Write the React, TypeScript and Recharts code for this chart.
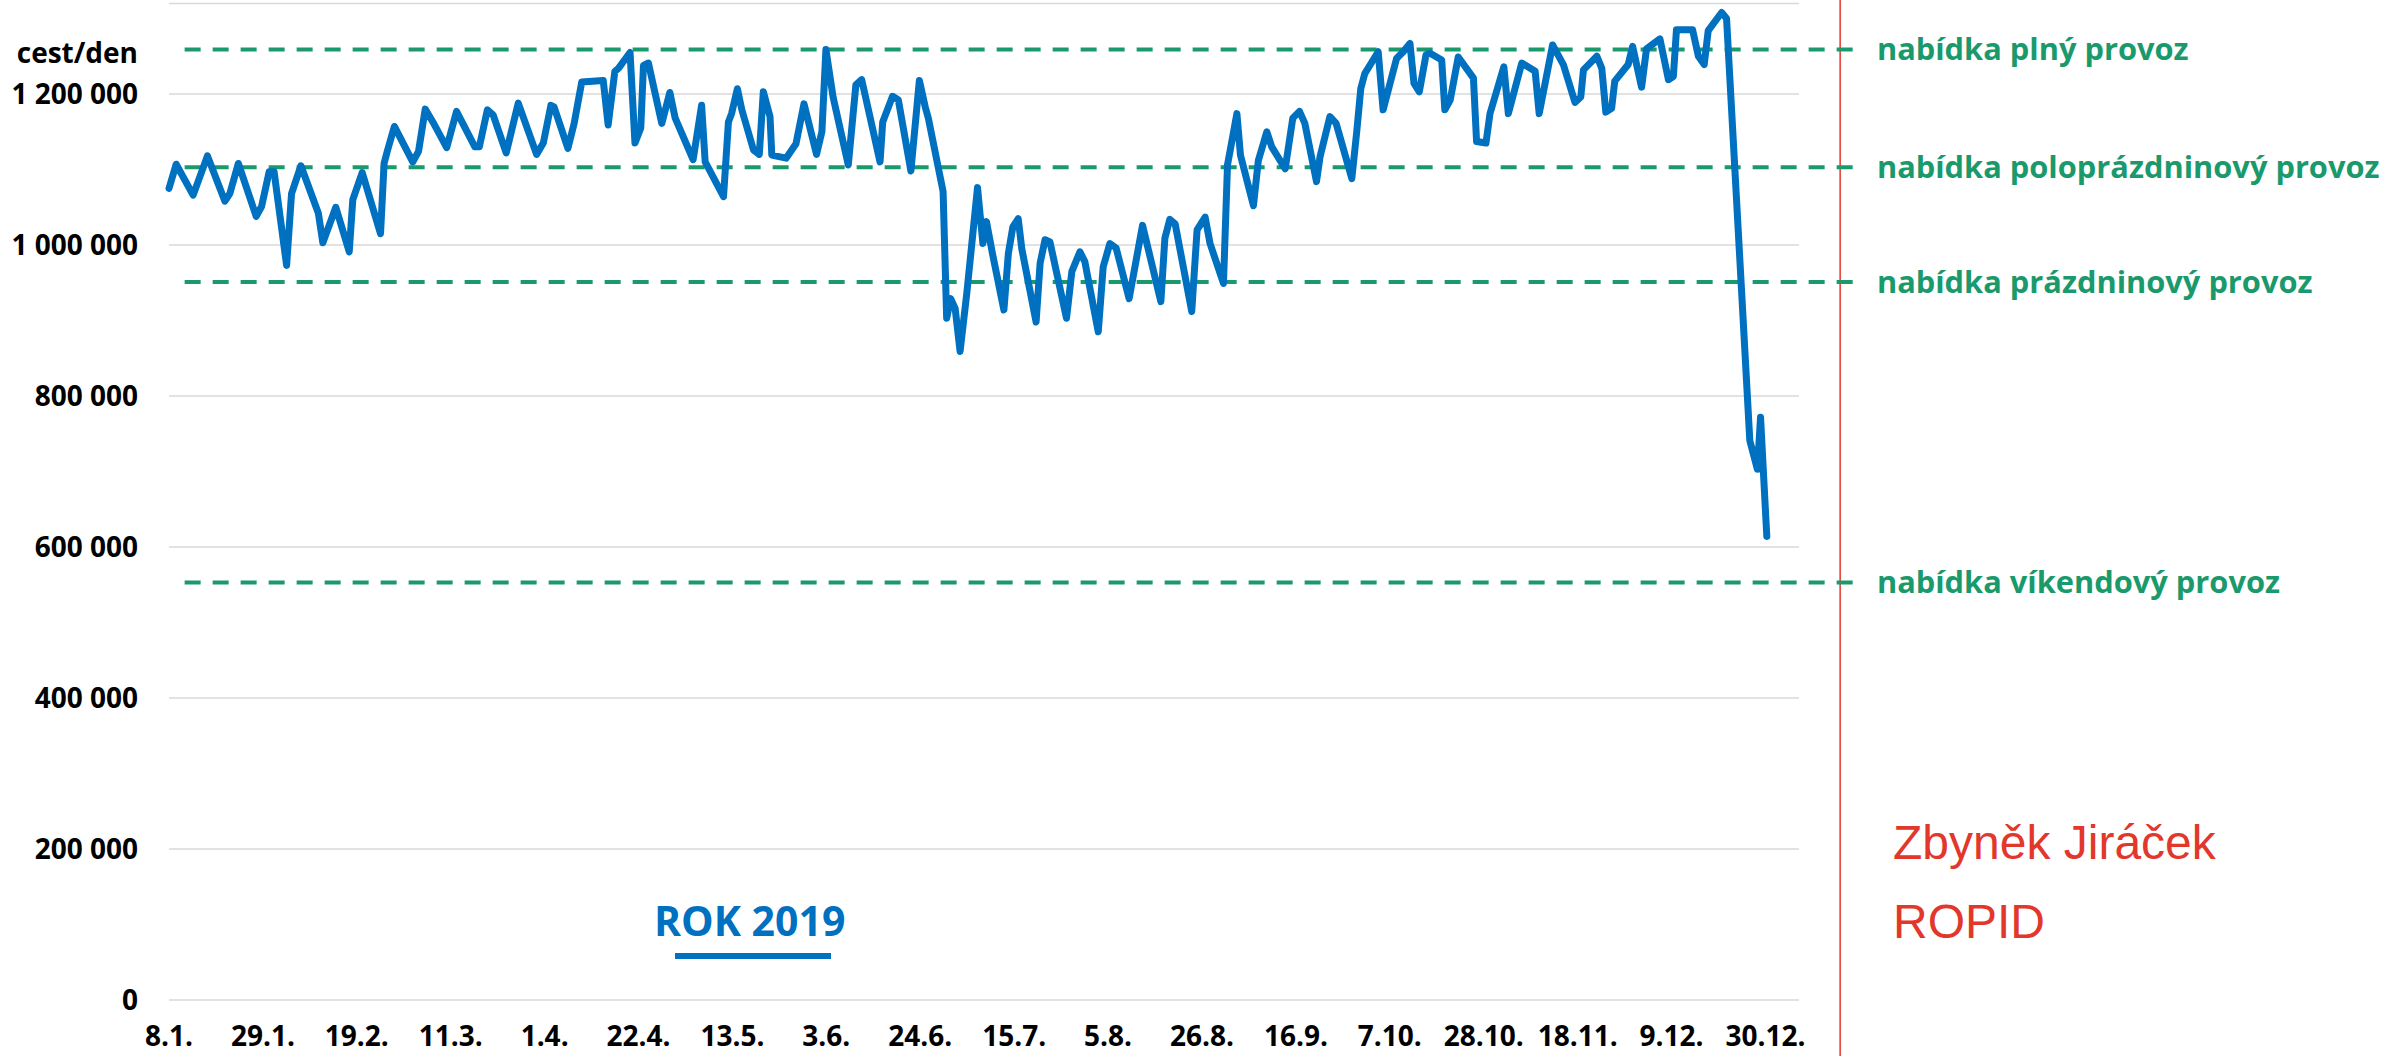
import { LineChart, Line, XAxis, YAxis, CartesianGrid, ReferenceLine } from 'recharts'

const FONT = '"Open Sans", sans-serif'
const BLUE = '#0070c0'
const GREEN = '#1a9a6c'
const RED = '#e2372b'

const X_TICK_LABELS = ['8.1.', '29.1.', '19.2.', '11.3.', '1.4.', '22.4.', '13.5.', '3.6.', '24.6.', '15.7.', '5.8.', '26.8.', '16.9.', '7.10.', '28.10.', '18.11.', '9.12.', '30.12.']
const X_TICKS = X_TICK_LABELS.map((_, i) => i * 21)
const Y_TICKS = [0, 200000, 400000, 600000, 800000, 1000000, 1200000]

// days counted from 8.1.
const DAYS = [
  0, 1.6, 5.4, 8.6, 12.5, 13.6, 15.5, 19.5, 20.7, 22.4, 23.5, 26.3, 27.4, 29.5, 33.4, 34.4, 37.3, 40.3, 41.1, 43.2,
  47.3, 48.1, 48.8, 50.4, 54.5, 55.8, 57.3, 59.0, 62.1,
  64.3, 68.4, 69.4, 71.2, 72.5, 75.4, 78.1, 82.2, 83.7, 85.4, 86.1, 89.2, 90.6, 92.3, 97.1, 98.2, 99.7, 100.5, 103.1, 104.2,
  105.5, 106.1, 107.2, 110.2, 112.0, 113.2, 117.2, 119.1, 119.9, 124.0,
  125.1, 125.8, 127.1, 128.1, 130.7, 132.0, 132.9, 134.4, 134.8, 138.0, 140.2, 142.0, 144.8, 146.0, 146.9, 148.5, 151.9,
  153.6, 154.9, 156.4, 159.0, 159.6, 161.8, 163.1, 165.9, 167.8, 169.1, 169.8, 173.1, 173.9, 174.8, 175.8, 176.9, 178.4,
  180.8, 182.0, 182.8, 184.2, 186.7,
  187.7, 188.7, 189.9, 190.7, 193.9, 194.8, 195.9, 197.0, 200.7, 201.9, 203.7, 204.8, 207.8, 208.9, 210.4, 211.8, 214.7,
  217.7, 221.8, 222.7, 223.8, 225.0, 228.7, 229.9, 231.7, 232.8, 235.8, 236.7, 237.6, 238.8, 239.6, 242.5, 243.6, 245.5, 246.6,
  249.6, 251.3, 252.8, 254.0, 256.6, 257.4, 259.6, 261.0, 264.5, 265.6, 266.5, 267.4, 270.4, 271.5, 274.5, 276.0, 277.5,
  278.4, 279.6, 281.1, 282.0, 284.6, 285.3, 286.5, 288.3, 291.7, 292.4, 294.5, 295.4, 298.5, 299.5, 302.5, 305.5, 306.4, 309.4,
  311.8, 314.4, 315.7, 316.3, 319.3, 320.4, 321.3, 322.6, 323.3, 326.3, 327.3, 329.3, 330.4, 333.4, 335.3, 336.4, 337.1,
  340.7, 342.0, 343.3, 344.2, 347.2, 348.3, 353.5, 355.2, 355.9, 357.3,
]

// trips per day, thousands
const TRIPS_K = [
  1075, 1107, 1066, 1118, 1058, 1068, 1108, 1038, 1051, 1097, 1097, 973, 1068, 1105, 1042, 1003, 1050, 991, 1060, 1096,
  1015, 1108, 1124, 1157, 1110, 1124, 1180, 1163, 1129,
  1177, 1130, 1130, 1179, 1172, 1122, 1188, 1120, 1135, 1185, 1183, 1128, 1161, 1216, 1218, 1159, 1230, 1234, 1255, 1135,
  1155, 1238, 1241, 1161, 1202, 1168, 1113, 1185, 1110, 1064,
  1163, 1174, 1207, 1179, 1126, 1120, 1203, 1170, 1119, 1115, 1134, 1187, 1120, 1150, 1259, 1196, 1106,
  1212, 1219, 1179, 1110, 1163, 1197, 1192, 1098, 1218, 1183, 1168, 1071, 903, 929, 916, 859, 936,
  1076, 1002, 1031, 987, 914,
  989, 1024, 1035, 995, 898, 976, 1007, 1004, 903, 965, 991, 978, 885, 971, 1002, 996, 929,
  1026, 925, 1009, 1034, 1028, 912, 1020, 1037, 1002, 949, 1106, 1135, 1174, 1119, 1052, 1112, 1150, 1130,
  1101, 1168, 1177, 1161, 1084, 1117, 1170, 1161, 1088, 1150, 1207, 1227, 1256, 1179, 1247, 1256, 1267,
  1214, 1203, 1252, 1254, 1245, 1179, 1192, 1249, 1221, 1137, 1135, 1174, 1236, 1174, 1241, 1230, 1174, 1265,
  1239, 1189, 1196, 1232, 1250, 1234, 1176, 1181, 1217, 1239, 1263, 1209, 1260, 1273, 1219, 1223, 1285,
  1285, 1250, 1239, 1284, 1308, 1300, 741, 703, 772, 614,
]

const SERVICE_NAMES = ['nabídka plný provoz', 'nabídka poloprázdninový provoz', 'nabídka prázdninový provoz', 'nabídka víkendový provoz']
const SERVICE_VALUES = [1259000, 1103000, 951000, 553000]

const data = DAYS.map((day, i) => ({ day, trips: TRIPS_K[i] * 1000 }))

const fmt = (v: number) => String(v).replace(/\B(?=(\d{3})+(?!\d))/g, ' ')

const tickStyle = { fill: '#000', fontSize: 28, fontWeight: 700, fontFamily: FONT }

export default function App() {
  return (
    <div style={{ position: 'absolute', left: 0, top: 0, width: 2384, height: 1056, background: '#fff' }}>
      <LineChart width={2384} height={1056} data={data} margin={{ top: 3.4, right: 585, left: 0, bottom: 0 }}>
        <CartesianGrid vertical={false} stroke="#d9d9d9" strokeWidth={1.5} />
        <XAxis
          type="number"
          dataKey="day"
          domain={[0, 364.5]}
          ticks={X_TICKS}
          interval={0}
          tickFormatter={(v: number) => X_TICK_LABELS[Math.round(v / 21)]}
          axisLine={false}
          tickLine={false}
          tickSize={0}
          tickMargin={26}
          height={56}
          tick={tickStyle}
        />
        <YAxis
          type="number"
          domain={[0, 1320000]}
          ticks={Y_TICKS}
          interval={0}
          tickFormatter={fmt}
          axisLine={false}
          tickLine={false}
          tickSize={0}
          tickMargin={31}
          width={169}
          tick={tickStyle}
        />
        <ReferenceLine
          segment={[{ x: 373.7, y: 1330000 }, { x: 373.7, y: -80000 }]}
          ifOverflow="visible"
          stroke={RED}
          strokeWidth={1.5}
        />
        {SERVICE_VALUES.map((v, i) => (
          <ReferenceLine
            key={SERVICE_NAMES[i]}
            segment={[{ x: 3.5, y: v }, { x: 377, y: v }]}
            ifOverflow="visible"
            stroke={GREEN}
            strokeWidth={4}
            strokeDasharray="16 12"
            label={{
              value: SERVICE_NAMES[i],
              position: 'right',
              offset: 22,
              fill: GREEN,
              fontSize: 30.8,
              fontWeight: 700,
              fontFamily: FONT,
            }}
          />
        ))}
        <Line
          type="linear"
          dataKey="trips"
          stroke={BLUE}
          strokeWidth={7}
          strokeLinejoin="round"
          strokeLinecap="round"
          dot={false}
          isAnimationActive={false}
        />
      </LineChart>
      <svg width={2384} height={1056} style={{ position: 'absolute', left: 0, top: 0, pointerEvents: 'none' }}>
        <text x={138} y={63} textAnchor="end" fontFamily={FONT} fontWeight={700} fontSize={28} fill="#000">cest/den</text>
        <text x={654} y={936} fontFamily={FONT} fontWeight={700} fontSize={41} fill={BLUE}>ROK 2019</text>
        <rect x={675} y={953} width={156} height={6} fill={BLUE} />
        <text x={1893} y={859} fontFamily='"Liberation Sans", Arial, sans-serif' fontSize={48} fill={RED}>Zbyněk Jiráček</text>
        <text x={1893} y={938} fontFamily='"Liberation Sans", Arial, sans-serif' fontSize={48} fill={RED}>ROPID</text>
      </svg>
    </div>
  )
}
